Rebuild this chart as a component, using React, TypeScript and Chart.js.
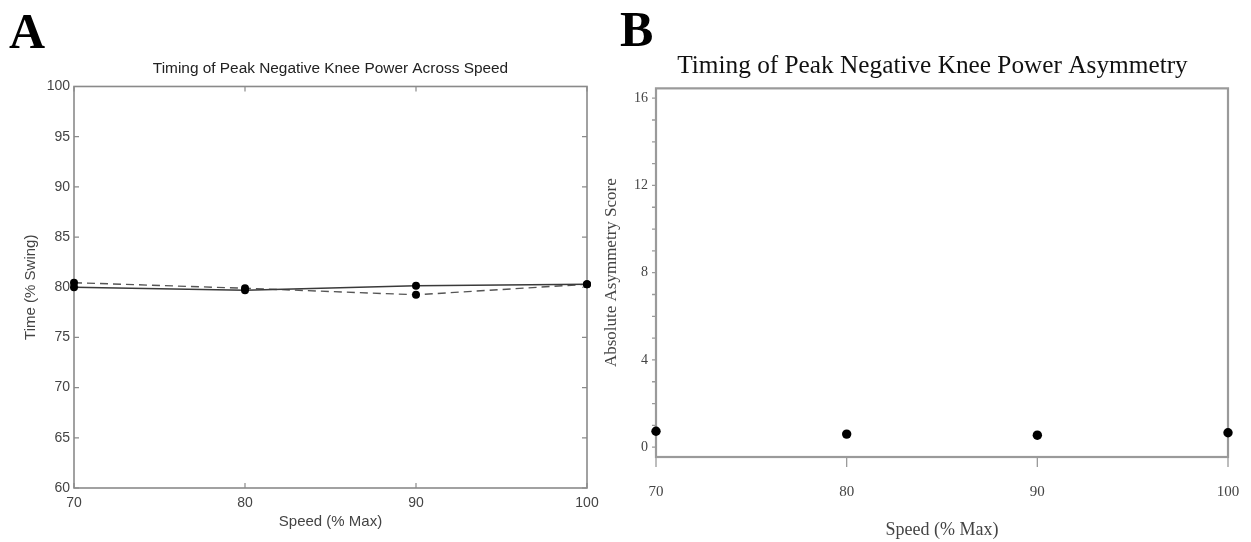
import React, { useEffect, useRef } from "react";
import { Chart, registerables } from "chart.js";

Chart.register(...registerables);

// ---- Data ----
const SPEEDS = [70, 80, 90, 100];
const TIME_SOLID = [80.0, 79.7, 80.15, 80.3];
const TIME_DASHED = [80.45, 79.9, 79.25, 80.3];
const ASYMMETRY = [0.73, 0.6, 0.55, 0.66];

const A_Y_TICKS = [60, 65, 70, 75, 80, 85, 90, 95, 100];
const A_X_TICKS = [70, 80, 90, 100];
const B_Y_TICKS = [0, 1, 2, 3, 4, 5, 6, 7, 8, 9, 10, 11, 12, 13, 14, 15, 16];
const B_Y_LABELED = [0, 4, 8, 12, 16];
const B_X_TICKS = [70, 80, 90, 100];

const TITLE_A = "Timing of Peak Negative Knee Power Across Speed";
const TITLE_B = "Timing of Peak Negative Knee Power Asymmetry";

const SANS = "'Liberation Sans', Arial, sans-serif";
const SERIF = "'Liberation Serif', 'Times New Roman', serif";

const frameA = {
  id: "frameA",
  beforeDatasetsDraw(chart: any) {
    const { ctx, chartArea, scales } = chart;
    const { left, right, top, bottom } = chartArea;
    const x = scales.x;
    const y = scales.y;
    ctx.save();
    ctx.strokeStyle = "#8a8a8a";
    ctx.lineWidth = 1.6;
    ctx.strokeRect(left, top, right - left, bottom - top);
    ctx.lineWidth = 1.2;
    ctx.beginPath();
    y.ticks.forEach((t: any) => {
      const py = y.getPixelForValue(t.value);
      ctx.moveTo(left, py);
      ctx.lineTo(left + 5, py);
      ctx.moveTo(right, py);
      ctx.lineTo(right - 5, py);
    });
    x.ticks.forEach((t: any) => {
      const px = x.getPixelForValue(t.value);
      ctx.moveTo(px, bottom);
      ctx.lineTo(px, bottom - 5);
      ctx.moveTo(px, top);
      ctx.lineTo(px, top + 5);
    });
    ctx.stroke();
    ctx.restore();
  },
};

const frameB = {
  id: "frameB",
  beforeDatasetsDraw(chart: any) {
    const { ctx, chartArea, scales } = chart;
    const { left, right, top, bottom } = chartArea;
    const x = scales.x;
    const y = scales.y;
    ctx.save();
    ctx.strokeStyle = "#9a9a9a";
    ctx.lineWidth = 2.2;
    ctx.strokeRect(left, top, right - left, bottom - top);
    ctx.lineWidth = 1.3;
    ctx.beginPath();
    y.ticks.forEach((t: any) => {
      const py = y.getPixelForValue(t.value);
      ctx.moveTo(left - 4, py);
      ctx.lineTo(left, py);
    });
    x.ticks.forEach((t: any) => {
      const px = x.getPixelForValue(t.value);
      ctx.moveTo(px, bottom);
      ctx.lineTo(px, bottom + 10);
    });
    ctx.stroke();
    ctx.restore();
  },
};

function ChartA() {
  const ref = useRef<HTMLCanvasElement>(null);
  useEffect(() => {
    if (!ref.current) return;
    const chart = new Chart(ref.current, {
      type: "line",
      data: {
        datasets: [
          {
            label: "Solid",
            data: SPEEDS.map((s, i) => ({ x: s, y: TIME_SOLID[i] })),
            borderColor: "#3a3a3a",
            borderWidth: 1.4,
            pointRadius: 4,
            pointBackgroundColor: "#000",
            pointBorderColor: "#000",
            pointBorderWidth: 0,
            tension: 0,
            clip: false,
          },
          {
            label: "Dashed",
            data: SPEEDS.map((s, i) => ({ x: s, y: TIME_DASHED[i] })),
            borderColor: "#555",
            borderWidth: 1.4,
            borderDash: [8, 5],
            pointRadius: 4,
            pointBackgroundColor: "#000",
            pointBorderColor: "#000",
            pointBorderWidth: 0,
            tension: 0,
            clip: false,
          },
        ],
      },
      options: {
        animation: false,
        responsive: false,
        devicePixelRatio: 1,
        layout: { padding: { left: 0, right: 74, top: 0, bottom: 0 } },
        plugins: {
          legend: { display: false },
          tooltip: { enabled: false },
          title: {
            display: true,
            fullSize: false,
            text: TITLE_A,
            color: "#222",
            font: { family: SANS, size: 15.4, weight: "normal" },
            padding: { top: 60, bottom: 8 },
          },
        },
        scales: {
          x: {
            type: "linear",
            min: 70,
            max: 100,
            afterBuildTicks: (s: any) => {
              s.ticks = A_X_TICKS.map((v) => ({ value: v }));
            },
            afterFit: (s: any) => {
              s.height = 54;
            },
            grid: { display: false, drawTicks: false },
            border: { display: false },
            ticks: {
              autoSkip: false,
              maxRotation: 0,
              padding: 7,
              color: "#444",
              font: { family: SANS, size: 14 },
            },
            title: {
              display: true,
              text: "Speed (% Max)",
              color: "#444",
              font: { family: SANS, size: 15 },
              padding: { top: 0, bottom: 11 },
            },
          },
          y: {
            type: "linear",
            min: 60,
            max: 100,
            afterBuildTicks: (s: any) => {
              s.ticks = A_Y_TICKS.map((v) => ({ value: v }));
            },
            afterFit: (s: any) => {
              s.width = 74;
            },
            grid: { display: false, drawTicks: false },
            border: { display: false },
            ticks: {
              autoSkip: false,
              padding: 4,
              color: "#444",
              font: { family: SANS, size: 14 },
            },
            title: {
              display: true,
              text: "Time (% Swing)",
              color: "#444",
              font: { family: SANS, size: 15 },
              padding: { top: 22, bottom: 0 },
            },
          },
        },
      },
      plugins: [frameA],
    } as any);
    return () => chart.destroy();
  }, []);
  return (
    <canvas
      ref={ref}
      width={661}
      height={542}
      style={{ position: "absolute", left: 0, top: 0, width: 661, height: 542 }}
    />
  );
}

function ChartB() {
  const ref = useRef<HTMLCanvasElement>(null);
  useEffect(() => {
    if (!ref.current) return;
    const chart = new Chart(ref.current, {
      type: "scatter",
      data: {
        datasets: [
          {
            label: "Asymmetry",
            data: SPEEDS.map((s, i) => ({ x: s, y: ASYMMETRY[i] })),
            pointRadius: 4.7,
            pointBackgroundColor: "#000",
            pointBorderColor: "#000",
            pointBorderWidth: 0,
            showLine: false,
            clip: false,
          },
        ],
      },
      options: {
        animation: false,
        responsive: false,
        devicePixelRatio: 1,
        layout: { padding: 0 },
        plugins: {
          legend: { display: false },
          tooltip: { enabled: false },
          title: {
            display: true,
            text: TITLE_B,
            color: "#111",
            font: { family: SERIF, size: 25.3, weight: "normal" },
            padding: { top: 51, bottom: 7 },
          },
        },
        scales: {
          x: {
            type: "linear",
            min: 70,
            max: 100,
            afterBuildTicks: (s: any) => {
              s.ticks = B_X_TICKS.map((v) => ({ value: v }));
            },
            afterFit: (s: any) => {
              s.height = 85;
            },
            grid: { display: false, drawTicks: false },
            border: { display: false },
            ticks: {
              autoSkip: false,
              maxRotation: 0,
              padding: 26,
              color: "#444",
              font: { family: SERIF, size: 15 },
            },
            title: {
              display: true,
              text: "Speed (% Max)",
              color: "#444",
              font: { family: SERIF, size: 18 },
              padding: { top: 0, bottom: 1 },
            },
          },
          y: {
            type: "linear",
            min: -0.45,
            max: 16.45,
            afterBuildTicks: (s: any) => {
              s.ticks = B_Y_TICKS.map((v) => ({ value: v }));
            },
            afterFit: (s: any) => {
              s.width = 58;
            },
            grid: { display: false, drawTicks: false },
            border: { display: false },
            ticks: {
              autoSkip: false,
              padding: 8,
              color: "#444",
              font: { family: SERIF, size: 14 },
              callback: (v: any) => (B_Y_LABELED.includes(v) ? String(v) : ""),
            },
            title: {
              display: true,
              text: "Absolute Asymmetry Score",
              color: "#444",
              font: { family: SERIF, size: 17 },
              padding: { top: 3, bottom: 0 },
            },
          },
          yRight: {
            type: "linear",
            position: "right",
            afterFit: (s: any) => {
              s.width = 39;
            },
            grid: { display: false, drawTicks: false },
            border: { display: false },
            ticks: { display: false },
          },
        },
      },
      plugins: [frameB],
    } as any);
    return () => chart.destroy();
  }, []);
  return (
    <canvas
      ref={ref}
      width={669}
      height={542}
      style={{ position: "absolute", left: 598, top: 0, width: 669, height: 542 }}
    />
  );
}

export default function App() {
  const letter: React.CSSProperties = {
    position: "absolute",
    fontFamily: SERIF,
    fontWeight: "bold",
    fontSize: 50,
    lineHeight: "50px",
    color: "#000",
  };
  return (
    <div
      style={{
        position: "fixed",
        left: 0,
        top: 0,
        width: 1251,
        height: 542,
        overflow: "hidden",
        background: "#fff",
      }}
    >
      <ChartA />
      <ChartB />
      <div style={{ ...letter, left: 9, top: 6 }}>A</div>
      <div style={{ ...letter, left: 620, top: 4 }}>B</div>
    </div>
  );
}
